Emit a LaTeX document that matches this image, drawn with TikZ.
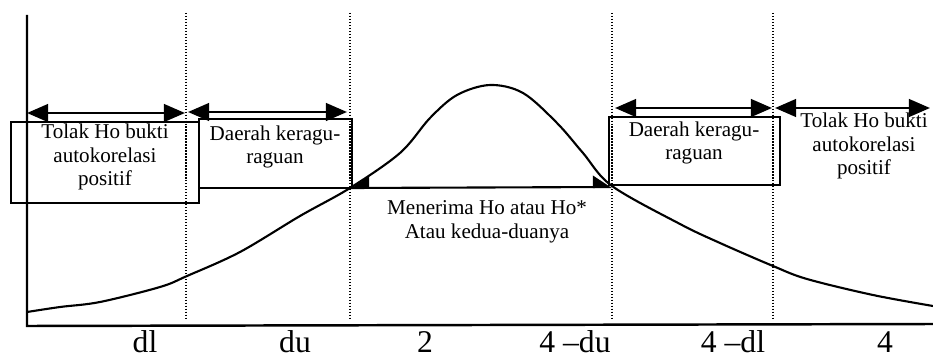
\documentclass[tikz,border=0pt]{standalone}
\usepackage{fontspec}
\setmainfont{Liberation Serif}
\usetikzlibrary{arrows.meta}

\begin{document}
\begin{tikzpicture}[x=0.02cm,y=-0.02cm,font=\fontsize{12}{13.5}\selectfont,
box/.style={draw,line width=1.2pt,inner sep=0pt},
txt/.style={align=center,inner sep=0pt},
tick/.style={font=\fontsize{18}{20}\selectfont,inner sep=0pt},
arr/.style={{Triangle[length=12pt,width=10pt]}-{Triangle[length=12pt,width=10pt]},line width=1.5pt},
harr/.style={{Triangle[length=10pt,width=13pt,right]}-{Triangle[length=10pt,width=13pt,left]},line width=1.2pt},
sep/.style={densely dotted,line width=0.7pt},
axis/.style={line width=1.4pt}]
\useasboundingbox (0,0) rectangle (933,358);
% axes
\coordinate (ytop) at (27,15);
\coordinate (orig) at (27,326);
\coordinate (xend) at (933,324);
\draw[axis] (ytop) -- (orig) -- (xend);
% boundaries
\foreach \x/\n in {186/dl,350/du,612/ndu,773/ndl}{
  \coordinate (top-\n) at (\x,13);
  \coordinate (bot-\n) at (\x,318);
  \draw[sep] (top-\n) -- (bot-\n);
}
% curve
\draw[line width=1.2pt] plot[smooth,tension=0.55] coordinates {(27,312) (60,307) (100,302)
  (160,287) (187,276) (240,252) (300,216) (350,188) (400,153) (430,118) (457,95) (490,85)
  (523,93) (557,123) (583,153) (612,186) (680,224) (720,243) (773,266) (807,279)
  (873,295) (933,306)};
% region arrows
\coordinate (a0) at (27,113);
\coordinate (a1) at (185,113);
\coordinate (a2) at (188,112);
\coordinate (a3) at (347,112);
\coordinate (b0) at (615,108);
\coordinate (b1) at (772,108);
\coordinate (b2) at (775,108);
\coordinate (b3) at (930,108);
\draw[arr] (a0)--(a1);\draw[arr] (a2)--(a3);
\draw[arr] (b0)--(b1);\draw[arr] (b2)--(b3);
\coordinate (ml) at (350,188);
\coordinate (mr) at (612,187);
\draw[harr] (ml)--(mr);
% boxes
\node[box,minimum width=3.76cm,minimum height=1.62cm] (box1) at (105,162.5) {};
\node[box,minimum width=3.06cm,minimum height=1.38cm] (box2) at (275.5,153.5) {};
\node[box,minimum width=3.42cm,minimum height=1.36cm] (box3) at (694.5,151) {};
\node[txt] (t1) at (105,157) {Tolak Ho bukti\\autokorelasi\\positif};
\node[txt] (t2) at (275,147) {Daerah keragu-\\raguan};
\node[txt] (t3) at (694,143) {Daerah keragu-\\raguan};
\node[txt] (t4) at (864,146) {Tolak Ho bukti\\autokorelasi\\positif};
\node[txt] (mid) at (487,222) {Menerima Ho atau Ho*\\Atau kedua-duanya};
% labels
\node[tick] (l1) at (145,342) {dl};
\node[tick] (l2) at (295,342) {du};
\node[tick] (l3) at (425,342) {2};
\node[tick] (l4) at (575,342) {4 –du};
\node[tick] (l5) at (733,342) {4 –dl};
\node[tick] (l6) at (885,342) {4};
\end{tikzpicture}
\end{document}
